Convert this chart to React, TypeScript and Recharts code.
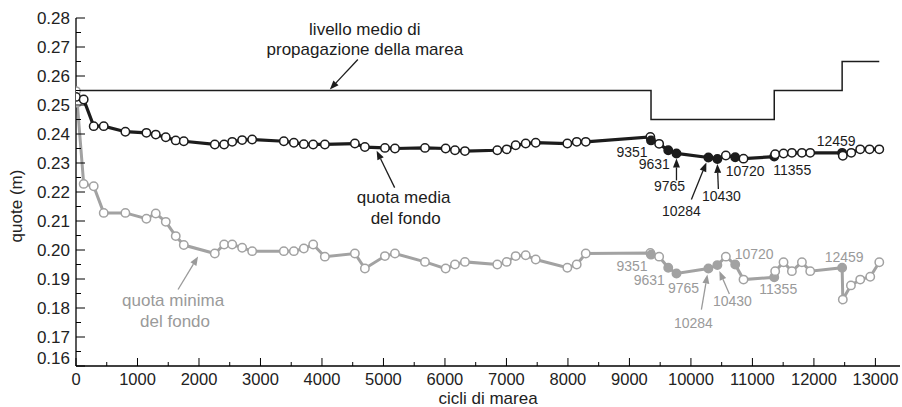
import { LineChart, Line, XAxis, YAxis, ReferenceDot, Label } from "recharts";

// livello medio di propagazione della marea (gradini)
const cicliLivello = [0, 9351, 9351, 11355, 11355, 12459, 12459, 13063];
const quotaLivello = [0.255, 0.255, 0.245, 0.245, 0.255, 0.255, 0.265, 0.265];

// quota media del fondo
const cicliMedia = [
  0, 125, 288, 451, 803, 1145, 1297, 1460, 1622, 1753, 2257, 2409, 2540, 2702,
  2865, 3380, 3543, 3705, 3857, 4047, 4535, 4698, 5024, 5187, 5675, 6011, 6163,
  6325, 6851, 7004, 7150, 7313, 7476, 7990, 8143, 8290, 9340, 9351, 9483, 9631,
  9765, 10284, 10430, 10568, 10720, 10855, 11355, 11370, 11506, 11642, 11805,
  11940, 12459, 12470, 12607, 12753, 12905, 13063,
];
const quotaMedia = [
  0.2528, 0.2519, 0.2427, 0.2427, 0.2408, 0.2404, 0.2398, 0.2389, 0.2378,
  0.2375, 0.2364, 0.2364, 0.2373, 0.2379, 0.2381, 0.2375, 0.237, 0.2365,
  0.2364, 0.2364, 0.2367, 0.2355, 0.2352, 0.235, 0.2352, 0.235, 0.2344, 0.2341,
  0.2344, 0.2347, 0.2361, 0.2367, 0.237, 0.2367, 0.2373, 0.2373, 0.239, 0.2378,
  0.2366, 0.2344, 0.2333, 0.2319, 0.2314, 0.2326, 0.232, 0.2315, 0.2322,
  0.233, 0.2333, 0.2335, 0.2335, 0.2335, 0.2335, 0.2325, 0.2335, 0.2347,
  0.2347, 0.2347,
];

// quota minima del fondo
const cicliMinima = [
  0, 20, 125, 288, 451, 803, 1145, 1297, 1460, 1622, 1753, 2257, 2409, 2540,
  2702, 2865, 3380, 3543, 3705, 3857, 4047, 4535, 4698, 5024, 5187, 5675, 6011,
  6163, 6325, 6851, 7004, 7150, 7313, 7476, 7990, 8143, 8290, 9340, 9351, 9483,
  9631, 9765, 10284, 10430, 10568, 10720, 10855, 11355, 11370, 11506, 11642,
  11805, 11940, 12459, 12470, 12602, 12753, 12916, 13063,
];
const quotaMinima = [
  0.2548, 0.2508, 0.2228, 0.222, 0.2128, 0.2128, 0.2108, 0.2126, 0.2097,
  0.2048, 0.2017, 0.1988, 0.2019, 0.2019, 0.2008, 0.1996, 0.1996, 0.1996,
  0.2005, 0.2019, 0.1977, 0.1988, 0.1936, 0.1979, 0.1988, 0.1959, 0.1936,
  0.195, 0.1959, 0.195, 0.1959, 0.1979, 0.1982, 0.1967, 0.1939, 0.195, 0.1988,
  0.199, 0.1984, 0.1977, 0.1939, 0.1919, 0.1936, 0.1948, 0.1977, 0.195, 0.1898,
  0.1906, 0.1927, 0.1958, 0.1927, 0.1958, 0.1927, 0.1939, 0.1829, 0.1878,
  0.1898, 0.1908, 0.1958,
];

// cicli evidenziati (marcatori pieni)
const cicliEvidenziati = [9351, 9631, 9765, 10284, 10430, 10720, 11355, 12459];

const tickX = [
  0, 500, 1000, 1500, 2000, 2500, 3000, 3500, 4000, 4500, 5000, 5500, 6000,
  6500, 7000, 7500, 8000, 8500, 9000, 9500, 10000, 10500, 11000, 11500, 12000,
  12500, 13000,
];
const tickY = [
  0.16, 0.165, 0.17, 0.175, 0.18, 0.185, 0.19, 0.195, 0.2, 0.205, 0.21, 0.215,
  0.22, 0.225, 0.23, 0.235, 0.24, 0.245, 0.25, 0.255, 0.26, 0.265, 0.27, 0.275,
  0.28,
];

const NERO = "#1c1c1c";
const GRIGIO = "#a2a2a2";
const TESTO_GRIGIO = "#9a9a9a";
const FONT = "'Liberation Sans', Arial, sans-serif";

const livello = cicliLivello.map((x, i) => ({ x, y: quotaLivello[i] }));
const media = cicliMedia.map((x, i) => ({ x, y: quotaMedia[i] }));
const minima = cicliMinima.map((x, i) => ({ x, y: quotaMinima[i] }));

function makeDot(color: string) {
  return (p: any) => {
    const pieno = cicliEvidenziati.includes(p.payload.x);
    return (
      <circle
        key={p.index}
        cx={p.cx}
        cy={p.cy}
        r={4.2}
        fill={pieno ? color : "#fff"}
        stroke={color}
        strokeWidth={1.5}
      />
    );
  };
}

function Freccia({ x1, y1, x2, y2, color }: any) {
  const a = Math.atan2(y2 - y1, x2 - x1);
  const L = 9;
  const W = 3.5;
  const bx = x2 - L * Math.cos(a);
  const by = y2 - L * Math.sin(a);
  const px = -Math.sin(a) * W;
  const py = Math.cos(a) * W;
  return (
    <g>
      <line x1={x1} y1={y1} x2={bx} y2={by} stroke={color} strokeWidth={1.3} />
      <polygon
        points={`${x2},${y2} ${bx + px},${by + py} ${bx - px},${by - py}`}
        fill={color}
      />
    </g>
  );
}

type Nota = {
  x: number;
  y: number;
  color: string;
  size: number;
  righe: { t: string; dx: number; dy: number }[];
  freccia?: number[];
};

const note: Nota[] = [
  {
    x: 4128, y: 0.255, color: NERO, size: 17,
    righe: [
      { t: "livello medio di", dx: 35, dy: -56 },
      { t: "propagazione della marea", dx: 35, dy: -36 },
    ],
    freccia: [28, -31, 0, -1],
  },
  {
    x: 4889, y: 0.2353, color: NERO, size: 17,
    righe: [
      { t: "quota media", dx: 27, dy: 55 },
      { t: "del fondo", dx: 29, dy: 76 },
    ],
    freccia: [18, 40, 0, 3],
  },
  {
    x: 1985, y: 0.1988, color: TESTO_GRIGIO, size: 17,
    righe: [
      { t: "quota minima", dx: -25, dy: 53 },
      { t: "del fondo", dx: -23, dy: 74 },
    ],
    freccia: [-20, 36, 0, 3],
  },
  { x: 9351, y: 0.2378, color: NERO, size: 14, righe: [{ t: "9351", dx: -19, dy: 17 }] },
  { x: 9631, y: 0.2344, color: NERO, size: 14, righe: [{ t: "9631", dx: -14, dy: 19 }] },
  { x: 9765, y: 0.2333, color: NERO, size: 14, righe: [{ t: "9765", dx: -7, dy: 38 }], freccia: [0, 27, 0, 5] },
  { x: 10284, y: 0.2319, color: NERO, size: 14, righe: [{ t: "10284", dx: -27, dy: 59 }], freccia: [-17, 42, -2, 5] },
  { x: 10430, y: 0.2314, color: NERO, size: 14, righe: [{ t: "10430", dx: 4, dy: 42 }], freccia: [1, 30, 0, 5] },
  { x: 10720, y: 0.232, color: NERO, size: 14, righe: [{ t: "10720", dx: 10, dy: 19 }] },
  { x: 11355, y: 0.2322, color: NERO, size: 14, righe: [{ t: "11355", dx: 18, dy: 18 }] },
  { x: 12459, y: 0.2335, color: NERO, size: 14, righe: [{ t: "12459", dx: -6, dy: -7 }] },
  { x: 9351, y: 0.1985, color: TESTO_GRIGIO, size: 14, righe: [{ t: "9351", dx: -19, dy: 17 }] },
  { x: 9631, y: 0.1939, color: TESTO_GRIGIO, size: 14, righe: [{ t: "9631", dx: -19, dy: 17 }] },
  { x: 9765, y: 0.1919, color: TESTO_GRIGIO, size: 14, righe: [{ t: "9765", dx: 7, dy: 20 }] },
  { x: 10284, y: 0.1936, color: TESTO_GRIGIO, size: 14, righe: [{ t: "10284", dx: -15, dy: 59 }], freccia: [-7, 41, -1, 6] },
  { x: 10430, y: 0.1948, color: TESTO_GRIGIO, size: 14, righe: [{ t: "10430", dx: 15, dy: 41 }], freccia: [12, 29, 2, 6] },
  { x: 10720, y: 0.195, color: TESTO_GRIGIO, size: 14, righe: [{ t: "10720", dx: 19, dy: -6 }] },
  { x: 11355, y: 0.1906, color: TESTO_GRIGIO, size: 14, righe: [{ t: "11355", dx: 4, dy: 17 }] },
  { x: 12459, y: 0.1939, color: TESTO_GRIGIO, size: 14, righe: [{ t: "12459", dx: 2, dy: -6 }] },
];

function TickY({ x, y, payload }: any) {
  const v = payload.value;
  const major = Math.round(v * 1000) % 10 === 0;
  return (
    <g>
      <line x1={x} y1={y} x2={x + (major ? 9 : 5)} y2={y} stroke="#000" strokeWidth={1} />
      {major && (
        <text
          x={x - 6}
          y={y + 6 - (v === 0.16 ? 8 : 0)}
          textAnchor="end"
          fontSize={17}
          fontFamily={FONT}
          fill="#222"
        >
          {v.toFixed(2)}
        </text>
      )}
    </g>
  );
}

function TickX({ x, y, payload }: any) {
  const v = payload.value;
  const major = v % 1000 === 0;
  return (
    <g>
      <line x1={x} y1={y} x2={x} y2={y - (major ? 8 : 4)} stroke="#000" strokeWidth={1} />
      {major && (
        <text x={x} y={y + 19} textAnchor="middle" fontSize={16.5} fontFamily={FONT} fill="#222">
          {v}
        </text>
      )}
    </g>
  );
}

export default function App() {
  return (
    <div style={{ position: "fixed", left: 0, top: 0, background: "#fff" }}>
      <LineChart width={902} height={407} margin={{ top: 18, right: 2, bottom: 1, left: 0 }}>
        <XAxis
          type="number"
          dataKey="x"
          domain={[0, 13400]}
          ticks={tickX}
          tick={<TickX />}
          tickLine={false}
          tickSize={0}
          tickMargin={0}
          height={40}
          axisLine={{ stroke: "#000", strokeWidth: 1.3 }}
          allowDataOverflow
          interval={0}
        >
          <Label
            content={(p: any) => (
              <text
                x={p.viewBox.x + p.viewBox.width / 2}
                y={p.viewBox.y + 38}
                textAnchor="middle"
                fontSize={17}
                fontFamily={FONT}
                fill="#222"
              >
                cicli di marea
              </text>
            )}
          />
        </XAxis>
        <YAxis
          type="number"
          domain={[0.16, 0.28]}
          ticks={tickY}
          tick={<TickY />}
          tickLine={false}
          tickSize={0}
          tickMargin={0}
          width={76}
          axisLine={{ stroke: "#000", strokeWidth: 1.3 }}
          interval={0}
          allowDataOverflow
        >
          <Label
            content={(p: any) => {
              const cy = p.viewBox.y + p.viewBox.height / 2 + 14;
              return (
                <text
                  x={22}
                  y={cy}
                  transform={`rotate(-90 22 ${cy})`}
                  textAnchor="middle"
                  fontSize={17}
                  fontFamily={FONT}
                  fill="#222"
                >
                  quote (m)
                </text>
              );
            }}
          />
        </YAxis>
        <Line
          data={livello}
          dataKey="y"
          type="linear"
          stroke={NERO}
          strokeWidth={1.5}
          dot={false}
          isAnimationActive={false}
        />
        <Line
          data={minima}
          dataKey="y"
          type="linear"
          stroke={GRIGIO}
          strokeWidth={3}
          dot={makeDot(GRIGIO)}
          isAnimationActive={false}
        />
        <Line
          data={media}
          dataKey="y"
          type="linear"
          stroke={NERO}
          strokeWidth={3.2}
          dot={makeDot(NERO)}
          isAnimationActive={false}
        />
        {note.map((n, i) => (
          <ReferenceDot
            key={i}
            x={n.x}
            y={n.y}
            r={1}
            ifOverflow="visible"
            shape={(p: any) => (
              <g>
                {n.freccia && (
                  <Freccia
                    x1={p.cx + n.freccia[0]}
                    y1={p.cy + n.freccia[1]}
                    x2={p.cx + n.freccia[2]}
                    y2={p.cy + n.freccia[3]}
                    color={n.color}
                  />
                )}
                {n.righe.map((r, j) => (
                  <text
                    key={j}
                    x={p.cx + r.dx}
                    y={p.cy + r.dy}
                    textAnchor="middle"
                    fontSize={n.size}
                    fontFamily={FONT}
                    fill={n.color}
                  >
                    {r.t}
                  </text>
                ))}
              </g>
            )}
          />
        ))}
      </LineChart>
    </div>
  );
}
